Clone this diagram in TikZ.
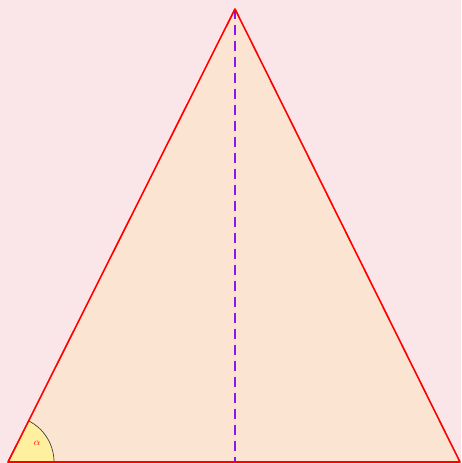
\documentclass[tikz,border=0pt]{standalone}
\usepackage{tikz}
\definecolor{bgpink}{RGB}{250,230,232}
\definecolor{tripeach}{RGB}{252,228,210}
\definecolor{arcyellow}{RGB}{255,240,160}
\definecolor{dashviolet}{RGB}{145,20,235}
\tikzset{
  side/.style={draw=red, line width=1.6pt, line join=round},
  height line/.style={draw=dashviolet, line width=1.6pt, dash pattern=on 10pt off 6pt},
  anglefill/.style={fill=arcyellow, draw=black!75, line width=0.7pt}
}
\begin{document}
\begin{tikzpicture}[x=1pt,y=1pt]
\fill[bgpink] (0,0) rectangle (461,463);
\useasboundingbox (0,0) rectangle (461,463);
\coordinate (A) at (8,1);
\coordinate (B) at (460,1);
\coordinate (C) at (235,454);
\coordinate (H) at (235,1);
\fill[tripeach] (A) -- (B) -- (C) -- cycle;
\path[anglefill] (A) -- ++(0:46) arc[start angle=0, end angle=63.4, radius=46] -- cycle;
\node[text=red, font=\normalsize] (alpha) at (37,20) {$\alpha$};
\draw[height line] (C) -- (H);
\draw[side] (A) -- (B) -- (C) -- cycle;
\end{tikzpicture}
\end{document}
